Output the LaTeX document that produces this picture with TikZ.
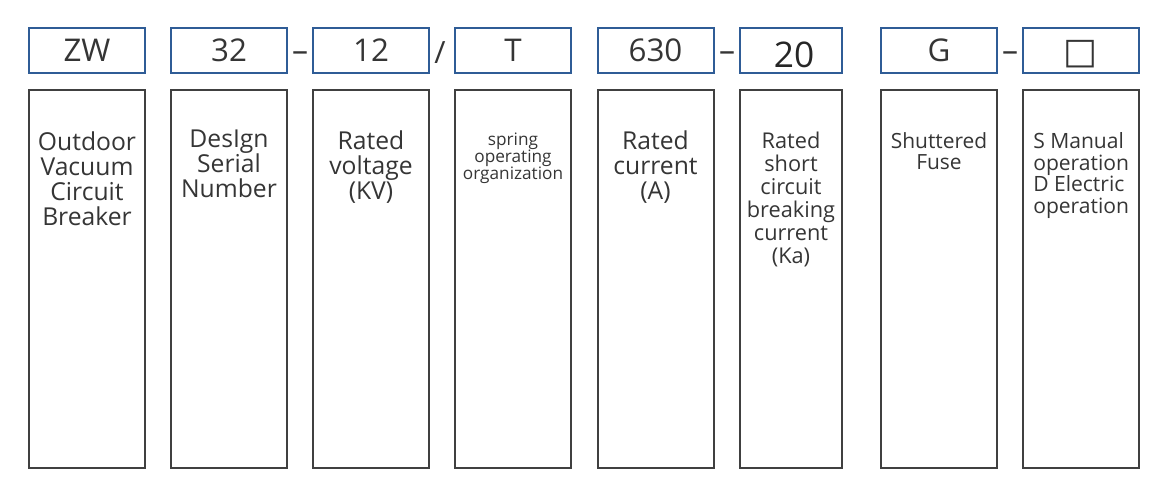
\documentclass[tikz,border=0pt]{standalone}
\usepackage{fontspec}
\setmainfont{Open Sans}
\newfontfamily\boxglyph{DejaVu Sans}
\definecolor{codeblue}{HTML}{2F5C96}
\definecolor{boxgray}{HTML}{404040}
\definecolor{inkgray}{HTML}{353535}

\begin{document}
\begin{tikzpicture}[x=0.75pt,y=-0.75pt,
        code/.style={draw=codeblue,line width=1.5pt,minimum width=87pt,minimum height=33.75pt,
            inner sep=0pt,text=inkgray,font=\fontsize{23.5}{28}\selectfont},
        desc/.style={draw=boxgray,line width=1.5pt,minimum width=87pt,minimum height=283.5pt,inner sep=0pt},
        note/.style={anchor=north,align=center,inner sep=0pt,text=inkgray},
        joint/.style={anchor=base,inner sep=0pt,text=inkgray,font=\fontsize{24}{28}\selectfont}]
        \useasboundingbox (0,0) rectangle (1162,501);
        % code row
        \node[code] (zw) at (87,50.5) {ZW};
        \node[code] (serial) at (229,50.5) {32};
        \node[code] (volt) at (371,50.5) {12};
        \node[code] (mech) at (513,50.5) {T};
        \node[code] (curr) at (655.5,50.5) {630};
        \node[code,minimum width=76.5pt] (brk) at (791,50.5) {};
        \node[inner sep=0pt,text=black!85,font=\fontsize{26.5}{30}\selectfont] (brkval) at (794,54.5) {20};
        \node[code] (fuse) at (939,50.5) {G};
        \node[code] (oper) at (1081,50.5) {};
        \node[inner sep=0pt,text=inkgray,font=\boxglyph\fontsize{27}{30}\selectfont] (operval) at (1080.5,54.5) {□};
        \node[joint] (j1) at (300,61.5) {–};
        \node[joint,font=\fontsize{23}{28}\selectfont] (j2) at (440,63) {/};
        \node[joint] (j3) at (727,61.5) {–};
        \node[joint] (j4) at (1010,61.5) {–};
        % meaning row
        \node[desc] (zwbox) at (87,279) {};
        \node[desc] (serialbox) at (229,279) {};
        \node[desc] (voltbox) at (371,279) {};
        \node[desc] (mechbox) at (513,279) {};
        \node[desc] (currbox) at (655.5,279) {};
        \node[desc,minimum width=76.5pt] (brkbox) at (791,279) {};
        \node[desc] (fusebox) at (939,279) {};
        \node[desc] (operbox) at (1081,279) {};
        \node[note,font=\fontsize{18.5}{18.75}\selectfont] (zwtxt) at (87,131) {Outdoor\\Vacuum\\Circuit\\Breaker};
        \node[note,font=\fontsize{18.5}{18.75}\selectfont] (serialtxt) at (229,130) {DesIgn\\Serial\\Number};
        \node[note,font=\fontsize{18.5}{18.75}\selectfont] (volttxt) at (371,130) {Rated\\voltage\\(KV)};
        \node[note,font=\fontsize{12.9}{12.75}\selectfont] (mechtxt) at (513,133) {spring\\operating\\organization};
        \node[note,font=\fontsize{18.5}{18.75}\selectfont] (currtxt) at (655.5,130) {Rated\\current\\(A)};
        \node[note,font=\fontsize{16.3}{17.25}\selectfont] (brktxt) at (791,131.5) {Rated\\short\\circuit\\breaking\\current\\(Ka)};
        \node[note,font=\fontsize{15.7}{16.1}\selectfont] (fusetxt) at (939,132) {Shuttered\\Fuse};
        \node[note,anchor=north west,align=left,font=\fontsize{15.8}{16.3}\selectfont] (opertxt) at (1033,132) {S Manual\\operation\\D Electric\\operation};
    \end{tikzpicture}
\end{document}
